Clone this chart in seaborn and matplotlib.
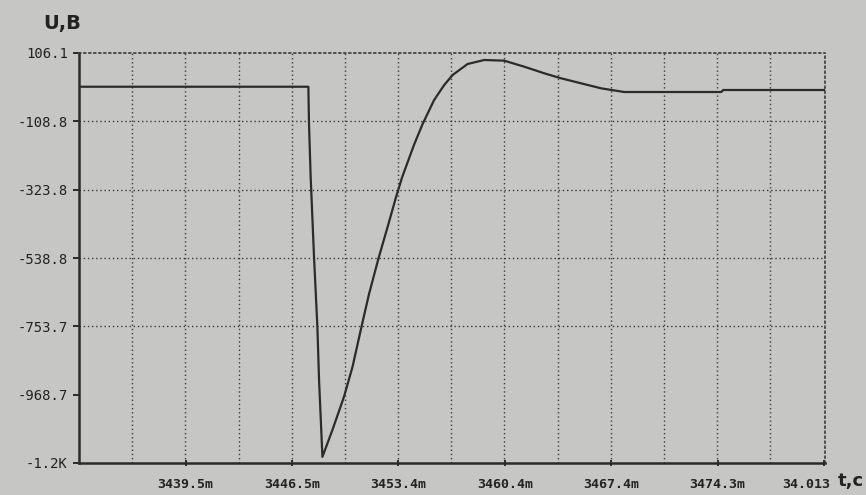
import numpy as np
import pandas as pd
import matplotlib
matplotlib.use("Agg")
import matplotlib.pyplot as plt
import matplotlib.transforms as mtransforms
import seaborn as sns

# waveform: time in ms, voltage in V
t_ms = [3432.5, 3447.54, 3447.58, 3447.69, 3447.91, 3448.13, 3448.24, 3448.46,
        3449.11, 3449.87, 3450.43, 3450.97, 3451.51, 3452.13, 3452.72, 3453.26,
        3453.66, 3454.46, 3455.01, 3455.77, 3456.43, 3456.98, 3457.96, 3459.05,
        3460.36, 3461.67, 3462.98, 3464.08, 3465.39, 3466.7, 3468.21, 3470.96,
        3474.56, 3474.69, 3481.4]
u_v = [0.0, 0.0, -114.2, -283.2, -534.9, -755.2, -922.9, -1164.3,
       -1080.3, -975.5, -881.1, -765.0, -652.0, -540.0, -442.0, -350.0,
       -287.0, -182.0, -118.0, -41.8, 5.4, 36.9, 71.5, 84.1,
       81.9, 63.0, 42.2, 26.5, 10.7, -5.0, -16.6, -16.6,
       -16.6, -10.3, -10.3]

y_ticks = [106.1, -108.8, -323.8, -538.8, -753.7, -968.7, -1183.6]
y_labels = ["106.1", "-108.8", "-323.8", "-538.8", "-753.7", "-968.7", "-1.2K"]
x_ticks = [3439.5, 3446.46, 3453.42, 3460.4, 3467.36, 3474.32, 3481.3]
x_labels = ["3439.5m", "3446.5m", "3453.4m", "3460.4m", "3467.4m", "3474.3m", "34.013"]

df = pd.DataFrame({"t": t_ms, "u": u_v})

sns.set_style("white")
bg = "#c6c6c4"
ink = "#2b2b2b"

fig = plt.figure(figsize=(8.66, 4.95), dpi=100, facecolor=bg)
ax = fig.add_axes([79 / 866, 1 - 463 / 495, (825 - 79) / 866, (463 - 53) / 495])
ax.set_facecolor(bg)

x0, x1 = 3432.53, 3481.35
y0, y1 = -1183.6, 106.1

# dotted grid: verticals every half division, horizontals at the labelled levels
for xv in np.arange(x0 + 3.48, x1 - 0.5, 3.48):
    ax.axvline(xv, color="#3a3a3a", lw=1.0, ls=(0, (1, 2)), zorder=1)
for yv in y_ticks[1:5]:
    ax.axhline(yv, color="#3a3a3a", lw=1.0, ls=(0, (1, 2)), zorder=1)

sns.lineplot(data=df, x="t", y="u", ax=ax, color=ink, lw=1.6, zorder=3)

ax.set_xlim(x0, x1)
ax.set_ylim(y0, y1)

for side in ["top", "right"]:
    ax.spines[side].set_linestyle((0, (1, 2)))
    ax.spines[side].set_color("#3a3a3a")
    ax.spines[side].set_linewidth(1.2)
for side in ["left", "bottom"]:
    ax.spines[side].set_color(ink)
    ax.spines[side].set_linewidth(1.8)

ax.set_yticks(y_ticks)
ax.set_yticklabels(y_labels, family="DejaVu Sans Mono", fontsize=10,
                   color="#222222")
ax.set_xticks(x_ticks)
ax.set_xticklabels(x_labels, family="DejaVu Sans Mono", fontsize=9.5,
                   color="#222222", fontweight="bold")
ax.tick_params(axis="y", length=4, width=1.4, color=ink, pad=4, left=True)
ax.tick_params(axis="x", length=4, width=1.4, color=ink, pad=9, bottom=True,
               direction="inout")
ax.set_xlabel("")
ax.set_ylabel("")

# last time label sits left of its tick so it does not run into "t,c"
last = ax.get_xticklabels()[-1]
last.set_horizontalalignment("right")
last.set_transform(last.get_transform() +
                   mtransforms.ScaledTranslation(6 / 100, 0, fig.dpi_scale_trans))

fig.text(43 / 866, 1 - 24 / 495, "U,B", fontsize=14, fontweight="bold",
         color="#222222", va="center", ha="left")
fig.text(838 / 866, 1 - 481 / 495, "t,c", fontsize=13, fontweight="bold",
         color="#222222", va="center", ha="left")

fig.savefig("out.png", dpi=100, facecolor=bg)
